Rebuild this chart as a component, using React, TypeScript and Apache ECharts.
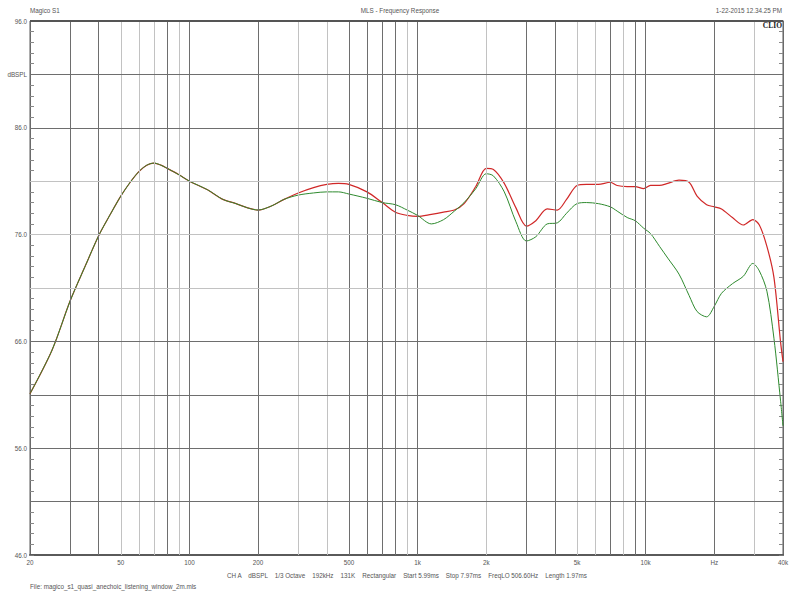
import React, { useEffect, useRef } from "react";
import * as echarts from "echarts";

// Frequencies (Hz) at which the curves were read
const freqHz = [
  20, 25, 30, 35, 40, 45, 50, 55, 60, 65, 70, 75, 80, 90, 100, 120, 140, 160, 180, 200, 230, 260,
  300, 350, 400, 450, 500, 600, 700, 800, 900, 1000,
  1150, 1300, 1450, 1600, 1800, 2000, 2150, 2400, 2700, 3000,
  3300, 3700, 4100, 4500, 5000, 5500, 6200, 7000, 7500, 8300,
  9000, 9800, 10500, 11500, 12500, 14000, 15500, 16800, 18500, 20000,
  21500, 24000, 26800, 29500, 31500, 34000, 36500, 39000, 40000,
];

// Shared part of both curves (20 Hz .. 260 Hz), dBSPL
const commonDb = [
  61.1, 65.2, 69.8, 73.1, 75.9, 77.9, 79.6, 80.9, 81.9, 82.5, 82.7, 82.5, 82.2, 81.6, 81.0, 80.2,
  79.3, 78.9, 78.5, 78.3, 78.7, 79.3,
];

// Red curve from 300 Hz upward
const redTailDb = [
  79.9, 80.4, 80.7, 80.8, 80.7, 80.0, 79.0, 78.1, 77.8, 77.7,
  77.9, 78.1, 78.3, 78.9, 80.5, 82.2, 82.1, 80.8, 78.5, 76.8,
  77.3, 78.4, 78.3, 79.3, 80.6, 80.7, 80.7, 80.9, 80.6, 80.5,
  80.5, 80.3, 80.6, 80.6, 80.8, 81.1, 80.9, 79.6, 78.8, 78.6,
  78.4, 77.6, 76.9, 77.4, 76.9, 74.9, 72.0, 66.0, 64.1,
];

// Green curve from 300 Hz upward
const greenTailDb = [
  79.7, 79.9, 80.0, 80.0, 79.8, 79.4, 79.0, 78.8, 78.3, 77.8,
  77.0, 77.4, 78.2, 79.0, 80.3, 81.7, 81.5, 80.0, 77.2, 75.4,
  75.8, 77.0, 77.1, 78.0, 78.9, 79.0, 78.9, 78.6, 78.2, 77.6,
  77.3, 76.6, 76.1, 74.9, 73.8, 72.3, 70.3, 68.8, 68.3, 69.3,
  70.5, 71.4, 72.1, 73.3, 72.6, 70.7, 66.3, 60.5, 58.1,
];

// Vertical grid frequencies
const xGridHz = [
  30, 40, 50, 60, 70, 80, 90, 100, 200, 300, 400, 500, 600, 700, 800, 900, 1000,
  2000, 3000, 4000, 5000, 6000, 7000, 8000, 9000, 10000, 20000, 30000,
];
// Horizontal grid levels
const yGridDb = [51, 56, 61, 66, 71, 76, 81, 86, 91];

// X tick labels
const xTickHz = [20, 50, 100, 200, 500, 1000, 2000, 5000, 10000, 20000, 40000];
const xTickText = ["20", "50", "100", "200", "500", "1k", "2k", "5k", "10k", "Hz", "40k"];

// Texts
const titleLeft = "Magico S1";
const titleCenter = "MLS - Frequency Response";
const titleRight = "1-22-2015 12.34.25 PM";
const infoLine =
  "CH A    dBSPL    1/3 Octave    192kHz    131K    Rectangular    Start 5.99ms    Stop 7.97ms    FreqLO 506.60Hz    Length 1.97ms";
const fileLine = "File: magico_s1_quasi_anechoic_listening_window_2m.mls";

// Styles
const DARK = "#6e6e6e";
const LIGHT = "#c2c2c2";
const lightX = new Set([50, 60, 70, 90, 300, 400, 900, 2000, 5000, 6000, 8000, 30000]);
const lightY = new Set([71, 76, 81]);
const TXT = "#555";
const FONT = "Liberation Sans, Arial, sans-serif";
const FS = 6.3;

export default function App() {
  const ref = useRef<HTMLDivElement>(null);

  useEffect(() => {
    document.body.style.margin = "0";
    const chart = echarts.init(ref.current!, null, { renderer: "svg" });

    const redDb = commonDb.concat(redTailDb);
    const greenDb = commonDb.concat(greenTailDb);
    const red = freqHz.map((f, i) => [f, redDb[i]]);
    const green = freqHz.map((f, i) => [f, greenDb[i]]);

    const lineData: any[] = [];
    xGridHz.forEach((f) => {
      lineData.push({ xAxis: f, lineStyle: { color: lightX.has(f) ? LIGHT : DARK } });
    });
    yGridDb.forEach((v) => {
      lineData.push({ yAxis: v, lineStyle: { color: lightY.has(v) ? LIGHT : DARK } });
    });
    lineData.push({ yAxis: 96, lineStyle: { color: "#555", width: 2 } });

    const labelData = xTickHz.map((f, i) => ({
      xAxis: f,
      lineStyle: { color: "rgba(0,0,0,0)", width: 1 },
      label: {
        show: true,
        position: "start",
        formatter: xTickText[i],
        color: TXT,
        fontSize: FS,
        fontFamily: FONT,
        distance: 4,
      },
    }));

    const yAxisBase = {
      type: "value",
      min: 46,
      max: 96,
      interval: 5,
      axisLine: { show: true, lineStyle: { color: "#6a6a6a", width: 1 } },
      axisTick: { show: true, inside: true, length: 4, lineStyle: { color: "#777" } },
      minorTick: { show: true, splitNumber: 5, length: 4, lineStyle: { color: "#888" } },
      splitLine: { show: false },
    };

    chart.setOption({
      animation: false,
      grid: {
        left: 30,
        right: 15,
        top: 21,
        bottom: 44,
        show: true,
        borderColor: "#5a5a5a",
        borderWidth: 1,
        backgroundColor: "transparent",
      },
      xAxis: {
        type: "log",
        logBase: 10,
        min: 20,
        max: 40000,
        axisLine: { show: true, lineStyle: { color: "#5a5a5a", width: 2 } },
        axisTick: { show: false },
        axisLabel: { show: false },
        splitLine: { show: false },
      },
      yAxis: [
        {
          ...yAxisBase,
          position: "left",
          axisLabel: {
            show: true,
            color: TXT,
            fontSize: FS,
            fontFamily: FONT,
            margin: 3,
            formatter: (v: number) =>
              v === 91 ? "dBSPL" : (v - 46) % 10 === 0 ? v.toFixed(1) : "",
          },
        },
        {
          ...yAxisBase,
          position: "right",
          axisLabel: { show: false },
        },
      ],
      series: [
        {
          type: "line",
          data: [[20, 46]],
          showSymbol: false,
          symbol: "none",
          lineStyle: { opacity: 0 },
          silent: true,
          z: 1,
          markLine: {
            silent: true,
            symbol: ["none", "none"],
            label: { show: false },
            lineStyle: { type: "solid", width: 1 },
            emphasis: { disabled: true },
            data: lineData.concat(labelData),
          },
        },
        {
          name: "red",
          type: "line",
          data: red,
          showSymbol: false,
          symbol: "none",
          smooth: 0.3,
          lineStyle: { color: "#d02828", width: 1.2 },
          z: 3,
        },
        {
          name: "green",
          type: "line",
          data: green,
          showSymbol: false,
          symbol: "none",
          smooth: 0.3,
          lineStyle: { color: "#2e8a2e", width: 1.0 },
          z: 4,
        },
      ],
      graphic: [
        {
          type: "text",
          x: 30,
          y: 7,
          style: { text: titleLeft, fill: TXT, fontSize: FS, fontFamily: FONT },
        },
        {
          type: "text",
          x: 400,
          y: 7,
          style: { text: titleCenter, fill: TXT, fontSize: FS, fontFamily: FONT, align: "center" },
        },
        {
          type: "text",
          x: 782,
          y: 7,
          style: { text: titleRight, fill: TXT, fontSize: FS, fontFamily: FONT, align: "right" },
        },
        {
          type: "text",
          x: 782,
          y: 21,
          z: 10,
          style: {
            text: "CLIO",
            fill: "#222",
            fontSize: 7.5,
            fontWeight: "bold",
            fontFamily: "Liberation Serif, serif",
            align: "right",
          },
        },
        {
          type: "text",
          x: 227,
          y: 572,
          style: { text: infoLine, fill: TXT, fontSize: FS, fontFamily: FONT },
        },
        {
          type: "text",
          x: 30,
          y: 583,
          style: { text: fileLine, fill: TXT, fontSize: FS, fontFamily: FONT },
        },
      ],
    });

    return () => chart.dispose();
  }, []);

  return <div ref={ref} style={{ width: 798, height: 599 }} />;
}
